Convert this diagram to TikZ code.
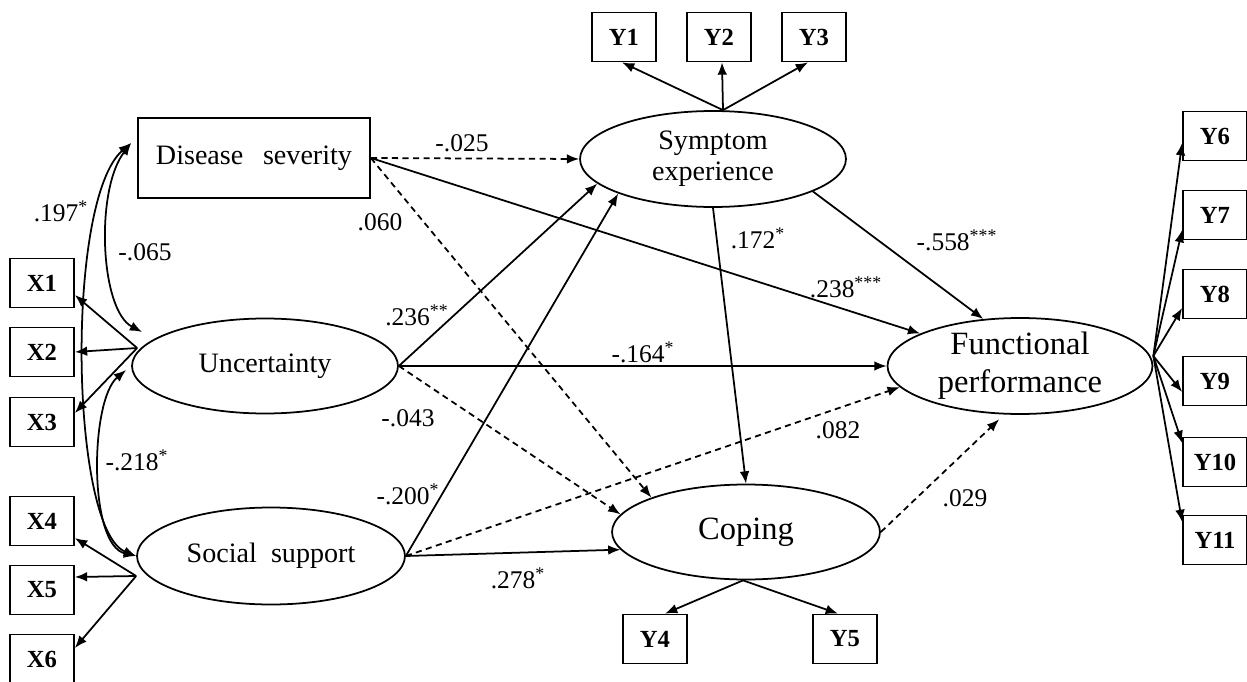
\documentclass[tikz,border=0pt]{standalone}
\usepackage{fontspec}
\setmainfont{Liberation Serif}
\usetikzlibrary{shapes.geometric,arrows.meta}
\begin{document}
\begin{tikzpicture}[x=0.02cm,y=0.02cm,line width=1pt,
  >={Latex[length=7pt,width=5.5pt]},
  every node/.style={font=\fontsize{14.5}{17}\selectfont},
  indic/.style={draw,rectangle,minimum width=1.28cm,minimum height=0.98cm,
    inner sep=0pt,font=\fontsize{14}{16}\selectfont\bfseries},
  latent/.style={draw,ellipse,minimum width=5.32cm,minimum height=1.92cm,
    inner sep=0pt,align=center,font=\fontsize{16}{17.6}\selectfont},
  big/.style={font=\fontsize{18.5}{21.5}\selectfont},
  nonsig/.style={dash pattern=on 3.5pt off 2.5pt}]
 \useasboundingbox (0,0) rectangle (1247,-682);
 \node [draw,minimum width=4.64cm,minimum height=1.6cm,inner sep=0pt,
  font=\fontsize{16}{18}\selectfont] (ds) at (254,-158) {Disease\hspace{0.7em}severity};
 \node [latent] (sym) at (713,-159) {Symptom\\experience};
 \node [latent,minimum height=1.9cm] (unc) at (265,-366) {Uncertainty};
 \node [latent,minimum width=5.36cm,minimum height=1.94cm] (ss) at (271,-556) {Social\hspace{0.5em}support};
 \node [latent,big,minimum width=5.3cm] (fp) at (1020,-366) {Functional\\performance};
 \node [latent,big,minimum width=5.36cm,minimum height=1.9cm] (cop) at (746,-532) {Coping};
 \foreach \n/\y in {1/283,2/352,3/422,4/521,5/590,6/659}
  \node [indic] (x\n) at (42,-\y) {X\n};
 \foreach \n/\x in {1/624,2/719,3/814}
  \node [indic] (y\n) at (\x,-37) {Y\n};
 \foreach \n/\x in {4/655,5/845}
  \node [indic] (y\n) at (\x,-639) {Y\n};
 \foreach \n/\y in {6/136,7/215,8/294,9/381,10/462,11/540}
  \node [indic] (y\n) at (1215,-\y) {Y\n};
 \coordinate (unc-hub) at ([shift={(6,18)}]unc.west);
 \coordinate (ss-hub) at ([shift={(0,-20)}]ss.west);
 \coordinate (fp-hub) at ([shift={(0,10)}]fp.east);
 \coordinate (sym-hub) at ([shift={(10,0)}]sym.north);
 \coordinate (cop-hub) at ([shift={(-3,0)}]cop.south);
 \coordinate (ds-corr) at ([shift={(-6,15)}]ds.west);
 \coordinate (unc-corr) at ([shift={(11,34)}]unc.west);
 \coordinate (unc-corr2) at ([shift={(-5,-4)}]unc.west);
 \foreach \n/\s in {1/-12,2/0,3/9}
  \draw [->] (unc-hub) -- ([shift={(0,\s)}]x\n.east);
 \foreach \n/\s in {4/-17,5/13,6/11}
  \draw [->] (ss-hub) -- ([shift={(0,\s)}]x\n.east);
 \foreach \n/\s in {6/-7,7/-15,8/-14,9/-11,10/19,11/18}
  \draw [->] (fp-hub) -- ([shift={(0,\s)}]y\n.west);
 \foreach \n/\s in {1/-2,2/3,3/-6}
  \draw [->] (sym-hub) -- ([shift={(\s,0)}]y\n.south);
 \foreach \n/\s in {4/10,5/-7}
  \draw [->] (cop-hub) -- ([shift={(\s,0)}]y\n.north);
 \draw [<->] (ds-corr) .. controls (65,-200) and (70,-530) .. (ss.west);
 \draw [<->] (ds-corr) .. controls (95,-190) and (100,-310) .. (unc-corr);
 \draw [<->] (unc-corr2) .. controls (90,-400) and (88,-545) .. (ss.west);
 \draw [->,nonsig] (ds.east) -- (sym.west);
 \draw [->] (ds.east) -- (fp.162);
 \draw [->,nonsig] (ds.east) -- (cop.160);
 \draw [->] (unc.east) -- (sym.192);
 \draw [->] (unc.east) -- (fp.west);
 \draw [->,nonsig] (unc.east) -- (cop.172);
 \draw [->] (ss.east) -- (sym.200);
 \draw [->,nonsig] (ss.east) -- (fp.190);
 \draw [->] (ss.east) -- (cop.188);
 \draw [->] (sym.south) -- (cop.north);
 \draw [->] (sym.-18) -- (fp.128);
 \draw [->,nonsig,shorten >=4pt] (cop.east) -- (fp.252);
 \node (c197) at (61,-211) {.197\textsuperscript{*}};
 \node (c065) at (145,-252) {-.065};
 \node (c218) at (137,-460) {-.218\textsuperscript{*}};
 \node (b025) at (462,-143) {-.025};
 \node (b060) at (380,-222) {.060};
 \node (b238) at (846,-287) {.238\textsuperscript{***}};
 \node (b236) at (417,-315) {.236\textsuperscript{**}};
 \node (b164) at (643,-352) {-.164\textsuperscript{*}};
 \node (b043) at (408,-418) {-.043};
 \node (b200) at (408,-494) {-.200\textsuperscript{*}};
 \node (b082) at (838,-430) {.082};
 \node (b278) at (518,-578) {.278\textsuperscript{*}};
 \node (b172) at (758,-238) {.172\textsuperscript{*}};
 \node (b558) at (957,-240) {-.558\textsuperscript{***}};
 \node (b029) at (965,-498) {.029};
\end{tikzpicture}
\end{document}
